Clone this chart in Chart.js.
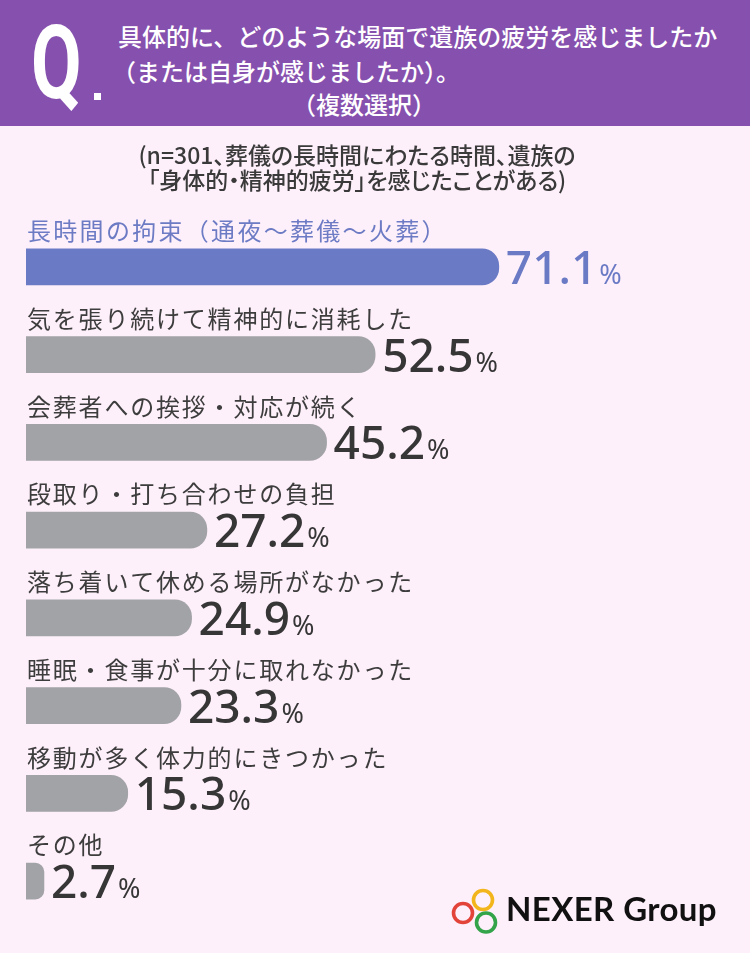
<!DOCTYPE html>
<html lang="ja">
<head>
<meta charset="utf-8">
<script src="https://cdn.jsdelivr.net/npm/chart.js@4.4.1/dist/chart.umd.min.js"></script>
<style>
  html, body { margin: 0; padding: 0; }
  body {
    width: 750px; height: 953px; position: relative; overflow: hidden;
    background: #fef0fa;
    font-family: "Noto Sans CJK JP", "Noto Sans", sans-serif;
  }
  #chart { position: absolute; left: 0; top: 0; }
  #header {
    position: absolute; left: 0; top: 0; width: 750px; height: 126px;
    background: #8650ae; z-index: 2;
  }
  #q {
    position: absolute; left: 31px; top: 0px;
    font-family: Roboto, sans-serif; font-weight: 700; font-size: 102px; line-height: 126px;
    color: #fff; transform: scaleX(0.72); transform-origin: left center;
  }
  #qdot {
    position: absolute; left: 94px; top: 93px; width: 7px; height: 7px; background: #fff;
  }
  .title {
    position: absolute; color: #fff; font-size: 24px; font-weight: 500; line-height: 24px;
    white-space: nowrap;
  }
  .sub {
    position: absolute; color: #3a3a3a; font-size: 23px; font-weight: 500; line-height: 23px;
    white-space: nowrap; left: 0; width: 714px; text-align: center;
    font-feature-settings: "palt";
  }
  #logo { position: absolute; left: 448px; top: 884px; z-index: 2; }
  #logotext {
    position: absolute; left: 506px; top: 888px; z-index: 2;
    font-family: Lato, sans-serif; font-weight: 700; font-size: 33px; line-height: 40px;
    color: #111; white-space: nowrap; letter-spacing: 0.4px;
  }
</style>
</head>
<body>
<canvas id="chart" width="750" height="953"></canvas>

<div id="header">
  <div id="q">Q</div>
  <div id="qdot"></div>
  <div class="title" style="left:118px; top:24px;">具体的に、どのような場面で遺族の疲労を感じましたか</div>
  <div class="title" style="left:112px; top:59px;">（または自身が感じましたか）。</div>
  <div class="title" style="left:292px; top:92px;">（複数選択）</div>
</div>

<div class="sub" style="top:143px;">(n=301、葬儀の長時間にわたる時間、遺族の</div>
<div class="sub" style="top:168px;">「身体的・精神的疲労」を感じたことがある)</div>

<svg id="logo" width="56" height="56" viewBox="0 0 56 56">
  <circle cx="15" cy="29" r="9.5" fill="none" stroke="#e2443a" stroke-width="3.6"/>
  <circle cx="35" cy="16" r="9.5" fill="none" stroke="#f2b51c" stroke-width="3.6"/>
  <circle cx="38" cy="38.5" r="9.5" fill="none" stroke="#34a44a" stroke-width="3.6"/>
</svg>
<div id="logotext">NEXER Group</div>

<script>
var categories = [
    "長時間の拘束（通夜〜葬儀〜火葬）",
    "気を張り続けて精神的に消耗した",
    "会葬者への挨拶・対応が続く",
    "段取り・打ち合わせの負担",
    "落ち着いて休める場所がなかった",
    "睡眠・食事が十分に取れなかった",
    "移動が多く体力的にきつかった",
    "その他"
];
var values = [71.1, 52.5, 45.2, 27.2, 24.9, 23.3, 15.3, 2.7];

var BLUE = "#6b7ac5";
var GRAY = "#a2a3a7";

// labels above the bars and percentage at the bar end
var barLabels = {
    id: "barLabels",
    afterDatasetsDraw: function(chart) {
        var ctx = chart.ctx;
        var meta = chart.getDatasetMeta(0);
        var left = chart.chartArea.left;
        ctx.save();
        meta.data.forEach(function(bar, i) {
            var first = (i == 0);
            // category label
            ctx.fillStyle = first ? "#6c7bc4" : "#3d3d3d";
            ctx.font = "400 24px 'Noto Sans CJK JP'";
            ctx.letterSpacing = first ? "2.3px" : "1.8px";
            ctx.textBaseline = "middle";
            ctx.textAlign = "left";
            ctx.fillText(categories[i], left + 1, bar.y - 36);

            // value
            ctx.letterSpacing = "0px";
            ctx.textBaseline = "alphabetic";
            ctx.fillStyle = first ? BLUE : "#363636";
            var num = values[i].toFixed(1);
            var x = bar.x + 7;
            var base = bar.y + 17;
            ctx.font = "500 46px 'Noto Sans'";
            ctx.fillText(num, x, base);
            x += ctx.measureText(num).width + 2;
            ctx.font = "400 27px 'Noto Sans'";
            ctx.fillText("%", x, base);
        });
        ctx.restore();
    }
};

var ctx = document.getElementById("chart").getContext("2d");
var myChart = new Chart(ctx, {
    type: "bar",
    data: {
        labels: categories,
        datasets: [{
            data: values,
            backgroundColor: function(c) { return c.dataIndex == 0 ? BLUE : GRAY; },
            borderRadius: 17,
            barThickness: 36
        }]
    },
    options: {
        indexAxis: "y",
        responsive: false,
        animation: false,
        layout: { padding: { top: 223, left: 26, right: 59, bottom: 28 } },
        scales: {
            x: { display: false, min: 0, max: 100 },
            y: { display: false }
        },
        plugins: {
            legend: { display: false },
            tooltip: { enabled: false }
        }
    },
    plugins: [barLabels]
});
</script>
</body>
</html>
